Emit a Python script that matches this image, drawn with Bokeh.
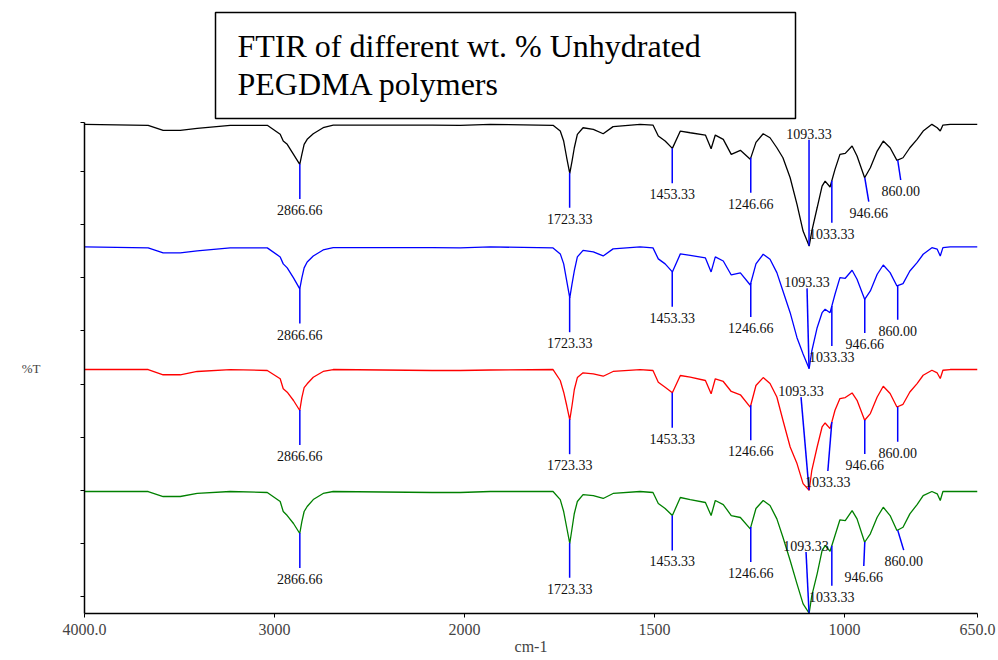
import numpy as np
from bokeh.plotting import figure
from bokeh.models import Range1d, FixedTicker, ColumnDataSource
from bokeh.layouts import column
from bokeh.core.properties import value
from bokeh.embed import file_html
from bokeh.resources import INLINE

# ---------------- data ----------------
wavenumber = [4000, 3665, 3586, 3496, 3407, 3233, 3038, 2970, 2954, 2933,
              2900, 2867, 2856, 2844, 2828, 2796, 2744, 2691, 2170, 2023,
              1932, 1767, 1748, 1739, 1731, 1723, 1717, 1711, 1703, 1688,
              1661, 1635, 1609, 1538, 1504, 1490, 1472, 1453, 1432, 1406,
              1366, 1351, 1340, 1319, 1298, 1274, 1248, 1233, 1214, 1196,
              1178, 1162, 1143, 1125, 1109, 1093, 1086, 1072, 1059, 1051,
              1038, 1025, 1012, 998, 980, 967, 947, 932, 914, 898,
              880, 862, 846, 828, 809, 793, 770, 756, 748, 741,
              722, 650]

t_black = [100, 99.2, 95.1, 95.1, 96.7, 99.2, 99.2, 91.8, 86.3, 83.6,
           75.4, 67.2, 75.4, 83.6, 87.7, 92.3, 97.2, 99.4, 99.4, 99.2,
           100, 99.2, 94.5, 86.3, 72.6, 59.8, 69.9, 80.8, 91.8, 97.2,
           95.9, 92.3, 98.1, 100, 99.4, 90.4, 86.3, 80.3, 94.5, 93.1,
           91.2, 80.0, 91.2, 87.7, 75.4, 78.7, 71.3, 85.2, 92.3, 89.0,
           80.8, 72.6, 56.2, 34.4, 12.5, 0.2, 12.5, 31.6, 49.4, 53.5,
           48.6, 63.1, 75.4, 76.2, 82.2, 74.0, 56.2, 64.4, 78.1, 86.3,
           80.8, 70.5, 72.6, 80.8, 87.7, 94.5, 100, 97.2, 94.5, 99.4,
           100, 100]

t_blue = [100, 99.2, 95.1, 95.1, 96.7, 99.2, 99.2, 91.8, 86.1, 82.8,
          74.6, 65.6, 74.6, 82.8, 87.7, 92.6, 97.5, 99.4, 99.4, 99.2,
          100, 99.2, 94.3, 86.1, 72.1, 58.2, 69.7, 80.3, 91.8, 97.2,
          95.9, 92.6, 98.4, 100, 99.2, 90.2, 86.1, 79.5, 94.3, 93.1,
          91.0, 79.5, 91.8, 88.5, 77.0, 78.7, 68.8, 86.1, 94.0, 89.9,
          78.9, 63.9, 46.1, 25.6, 12.3, 0.2, 14.7, 33.8, 46.1, 48.9,
          46.1, 61.2, 74.8, 74.3, 80.9, 73.5, 57.1, 63.9, 77.6, 85.2,
          78.9, 68.0, 69.9, 80.3, 87.1, 94.0, 99.4, 98.1, 92.6, 99.4,
          100, 100]

t_red = [100, 100, 95.7, 95.7, 98.4, 100, 99.2, 92.4, 84.2, 81.4,
         74.6, 66.4, 77.0, 85.2, 88.3, 93.7, 98.4, 100, 99.2, 99.2,
         99.6, 100, 91.0, 81.4, 70.5, 58.8, 70.5, 83.6, 93.4, 97.3,
         96.5, 94.5, 98.4, 100, 99.2, 89.6, 85.5, 80.9, 95.1, 93.7,
         91.0, 80.1, 92.4, 90.2, 82.0, 79.3, 69.1, 86.9, 93.4, 88.5,
         77.5, 58.4, 36.5, 22.9, 6.5, 1.0, 17.4, 36.5, 52.9, 56.2,
         51.6, 66.6, 76.2, 77.0, 80.8, 74.8, 58.4, 63.9, 77.5, 86.3,
         80.3, 69.3, 71.5, 81.6, 88.5, 95.3, 99.4, 97.2, 92.6, 99.4,
         100, 100]

t_green = [100, 100, 95.9, 95.9, 98.4, 100, 99.2, 91.8, 83.6, 80.3,
           73.8, 65.6, 75.4, 83.6, 87.7, 93.4, 98.4, 100, 99.2, 99.2,
           100, 100, 93.4, 83.6, 70.5, 57.4, 69.7, 82.0, 91.8, 97.5,
           96.7, 94.3, 98.4, 100, 99.2, 90.2, 86.1, 80.3, 95.1, 93.4,
           91.0, 80.3, 92.6, 89.3, 80.3, 78.7, 69.4, 86.1, 92.6, 88.5,
           77.6, 62.5, 43.4, 24.3, 7.9, 0.2, 14.7, 32.5, 51.6, 55.7,
           51.0, 63.9, 76.8, 76.2, 84.4, 77.6, 58.4, 65.3, 78.9, 87.1,
           80.3, 68.0, 70.7, 81.7, 89.3, 96.7, 100, 98.1, 92.6, 100,
           100, 100]

traces = [t_black, t_blue, t_red, t_green]
trace_colors = ["#000000", "#0000ff", "#ff0000", "#008000"]
trace_offsets = [301, 200.5, 100, 0]

peak_wn = [2866.66, 1723.33, 1453.33, 1246.66, 1093.33, 1033.33, 946.66, 860.00]
peak_labels = ["2866.66", "1723.33", "1453.33", "1246.66", "1093.33", "1033.33", "946.66", "860.00"]

x_tick_wn = [4000, 3000, 2000, 1500, 1000, 650]
x_tick_labels = ["4000.0", "3000", "2000", "1500", "1000", "650.0"]

title_lines = ["FTIR of different wt. % Unhydrated", "PEGDMA polymers"]

# leader-line layout per trace and peak, in pixels: (length, dx); negative length = upwards
leaders = [
    [(35, 0), (35, 0), (35, 0), (35, 0), (-106, 0), (42, 0), (24, 4), (20, 3)],
    [(35, 0), (35, 0), (35, 0), (34, 0), (-80, -2), (40, 0), (34, 0), (34, 0)],
    [(35, 0), (35, 0), (35, 0), (35, 0), (-93, -8), (49, -4), (34, 0), (35, 0)],
    [(35, 0), (35, 0), (35, 0), (35, 0), (-61, -3), (40, 0), (24, -1), (20, 6)],
]


def to_x(w):
    """Instrument abscissa: 4000-2000 cm-1 compressed 2x relative to 2000-650."""
    w = np.asarray(w, dtype=float)
    return np.where(w >= 2000, 4000 - w, 2000 + 2 * (2000 - w))


X_MAX = float(to_x(650))
PAGE_W = 998
LEFT, RIGHT = 84, 21
FRAME_W, FRAME_H = PAGE_W - LEFT - RIGHT, 491
TITLE_H = 120
Y_MAX = 402.5
PX_X = FRAME_W / X_MAX
PX_Y = FRAME_H / Y_MAX

SERIF = "Liberation Serif"

# ---------------- title box figure (coordinates = page pixels) ----------------
pt = figure(width=PAGE_W, height=TITLE_H, x_range=Range1d(LEFT, LEFT + FRAME_W),
            y_range=Range1d(TITLE_H, 0), min_border_left=LEFT, min_border_right=RIGHT,
            min_border_top=0, min_border_bottom=0,
            toolbar_location=None, output_backend="svg")
pt.axis.visible = False
pt.grid.visible = False
pt.outline_line_color = None
pt.quad(left=[215], right=[795], top=[12], bottom=[118], fill_color=None,
        line_color="black", line_width=1.5)
pt.text(x=[237, 237], y=[45, 83], text=title_lines, text_align="left",
        text_baseline="middle", text_font=value(SERIF), text_font_size=value("32px"),
        text_color="black")

# ---------------- main figure ----------------
p = figure(width=PAGE_W, height=660 - TITLE_H, x_range=Range1d(0, X_MAX), y_range=Range1d(0, Y_MAX),
           min_border_left=LEFT, min_border_right=RIGHT, min_border_top=2,
           min_border_bottom=660 - TITLE_H - 2 - FRAME_H,
           toolbar_location=None, output_backend="svg")
p.grid.visible = False
p.outline_line_color = None
p.background_fill_color = "white"

xs = to_x(wavenumber)
for T, col, off in zip(traces, trace_colors, trace_offsets):
    src = ColumnDataSource(dict(x=xs, y=np.array(T) + off))
    p.line("x", "y", source=src, line_color=col, line_width=1.3)

# peak annotations
sx0, sy0, sx1, sy1, lx, ly, lt = [], [], [], [], [], [], []
for T, off, lay in zip(traces, trace_offsets, leaders):
    for w, lab, (L, dx) in zip(peak_wn, peak_labels, lay):
        x0 = float(to_x(w))
        y0 = off + float(np.interp(x0, xs, T))
        x1 = x0 + dx / PX_X
        y1 = y0 - L / PX_Y
        sx0.append(x0); sy0.append(y0); sx1.append(x1); sy1.append(y1)
        lx.append(x1)
        ly.append(y1 - 11 / PX_Y if L > 0 else y1 + 6 / PX_Y)
        lt.append(lab)
p.segment(x0=sx0, y0=sy0, x1=sx1, y1=sy1, line_color="#0000ff", line_width=1.5)
p.text(x=lx, y=ly, text=lt, text_align="center", text_baseline="middle",
       text_font=value(SERIF), text_font_size=value("14px"), text_color="#111111")

# x axis
p.xaxis.ticker = FixedTicker(ticks=[float(v) for v in to_x(x_tick_wn)])
p.xaxis.major_label_overrides = {float(v): s for v, s in zip(to_x(x_tick_wn), x_tick_labels)}
p.xaxis.axis_label = "cm-1"
p.xaxis.axis_label_text_font = SERIF
p.xaxis.axis_label_text_font_style = "normal"
p.xaxis.axis_label_text_font_size = "16px"
p.xaxis.axis_label_standoff = 0
p.xaxis.major_label_text_font = SERIF
p.xaxis.major_label_text_font_size = "16px"
p.xaxis.major_label_standoff = 6
p.xaxis.major_tick_out = 4
p.xaxis.major_tick_in = 0
p.xaxis.minor_tick_out = 0
p.xaxis.minor_tick_in = 0
p.xaxis.axis_line_width = 1.5

# y axis (unlabelled ticks)
y_ticks = [13.7 + 43.6 * k for k in range(9)] + [Y_MAX]
p.yaxis.ticker = FixedTicker(ticks=y_ticks)
p.yaxis.major_label_overrides = {t: "" for t in y_ticks}
p.yaxis.major_tick_out = 4
p.yaxis.major_tick_in = 0
p.yaxis.minor_tick_out = 0
p.yaxis.minor_tick_in = 0
p.yaxis.axis_line_width = 1.5
p.yaxis.axis_label = "%T"
p.yaxis.axis_label_text_font = SERIF
p.yaxis.axis_label_text_font_style = "normal"
p.yaxis.axis_label_text_font_size = "13px"
p.yaxis.axis_label_standoff = 40
try:
    p.yaxis.axis_label_orientation = "horizontal"
except Exception:
    pass

layout = column(pt, p, spacing=0)
open("out.html", "w").write(file_html(layout, INLINE))
